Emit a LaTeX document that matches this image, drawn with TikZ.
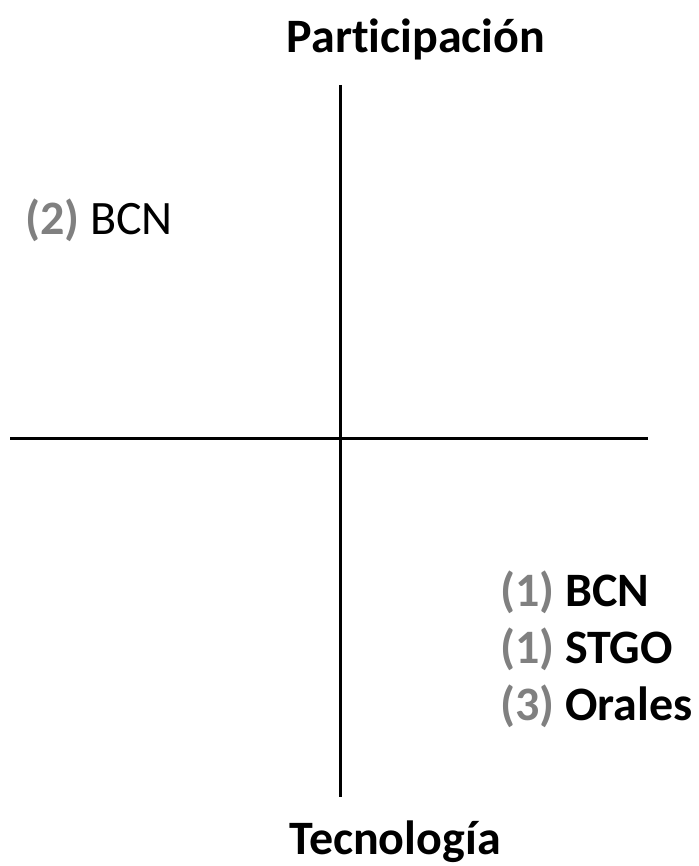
\documentclass[tikz,border=0pt]{standalone}
\usepackage{fontspec}
\setmainfont[Ligatures=NoCommon]{Carlito}
\usetikzlibrary{positioning}
\definecolor{numgray}{RGB}{128,128,128}

\begin{document}
\begin{tikzpicture}[x=1pt, y=-1pt,
axis/.style = {draw, line width=3pt},
title/.style = {font=\fontsize{48}{56}\selectfont\bfseries, inner sep=0pt},
item/.style = {font=\fontsize{48}{56}\selectfont, inner sep=0pt, anchor=base west}]
    \useasboundingbox (0,0) rectangle (698,866);
    \coordinate (top)    at (340,85);
    \coordinate (bottom) at (340,797);
    \coordinate (left)   at (10,438);
    \coordinate (right)  at (648,438);
    \node [title, anchor=base] (P) at (416,53)  {Participación};
    \node [title, anchor=base] (T) at (395,854) {Tecnología};
    \node [item] (B2) at (25,235)  {\textcolor{numgray}{\bfseries(2)} BCN};
    \node [item] (B1) at (500,606) {\textcolor{numgray}{\bfseries(1)} \bfseries BCN};
    \node [item] (S1) at (500,663) {\textcolor{numgray}{\bfseries(1)} \bfseries STGO};
    \node [item] (O3) at (500,720) {\textcolor{numgray}{\bfseries(3)} \bfseries Orales};
    \path[axis] (top) -- (bottom)
                (left) -- (right);
\end{tikzpicture}
\end{document}
